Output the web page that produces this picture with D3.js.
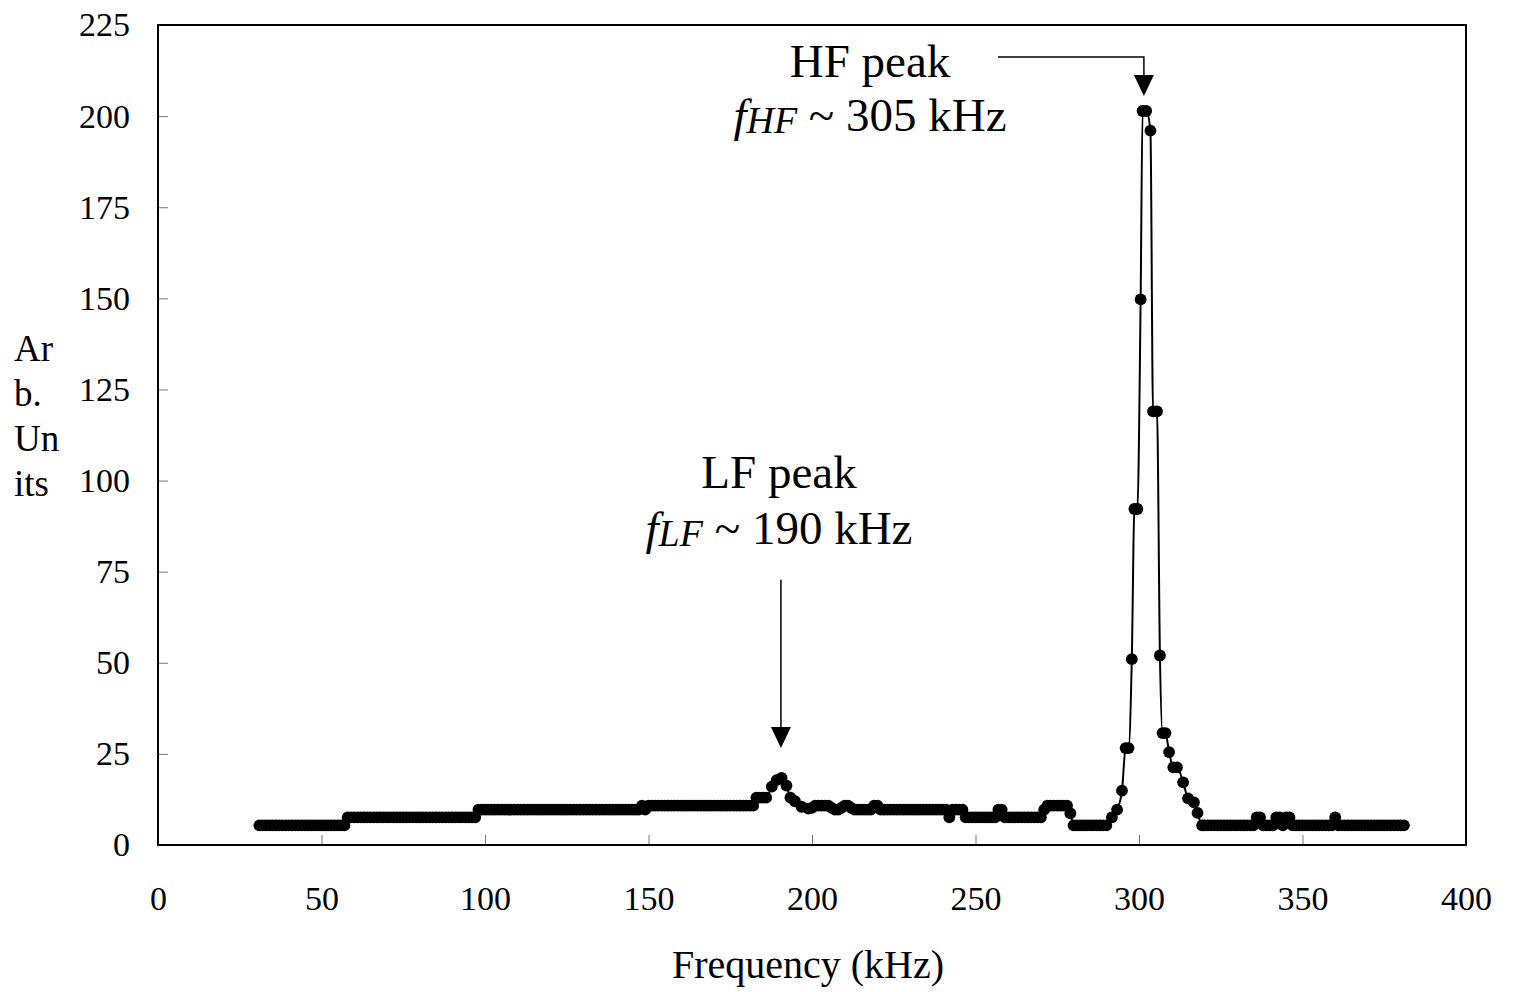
<!DOCTYPE html>
<html>
<head>
<meta charset="utf-8">
<script src="https://cdn.jsdelivr.net/npm/d3@7"></script>
<style>
  body { margin: 0; background: #fff; }
  text { font-family: "Liberation Serif", "Times New Roman", serif; fill: #000; }
</style>
</head>
<body>
<div id="chart"></div>
<script>
// frequency of each sample (kHz)
var freq = [
  31,32,33,34,35,36,37,38,39,40,
  41,42,43,44,45,46,47,48,49,50,
  51,52,53,54,55,56,57,58,59,60,
  61,62,63,64,65,66,67,68,69,70,
  71,72,73,74,75,76,77,78,79,80,
  81,82,83,84,85,86,87,88,89,90,
  91,92,93,94,95,96,97,98,99,100,
  101,102,103,104,105,106,107,108,109,110,
  111,112,113,114,115,116,117,118,119,120,
  121,122,123,124,125,126,127,128,129,130,
  131,132,133,134,135,136,137,138,139,140,
  141,142,143,144,145,146,147,148,149,150,
  151,152,153,154,155,156,157,158,159,160,
  161,162,163,164,165,166,167,168,169,170,
  171,172,173,174,175,176,177,178,179,180,
  181,182,183,184,185,186,
  187.7,189.2,190.7,192.2,193.4,194.8,196.8,198.9,
  200,201,202,203,204,205,206,207,208,209,
  210,211,212,213,214,215,216,217,218,219,
  220,221,222,223,224,225,226,227,228,229,
  230,231,232,233,234,235,236,237,238,239,
  240,241,242,243,244,245,246,247,248,249,
  250,251,252,253,254,255,256,257,258,259,
  260,261,262,263,264,265,266,267,268,269,
  270,271,272,273,274,275,276,277,278,279,
  280,281,282,283,284,285,286,287,288,289,290,
  291.7,293.3,294.8,295.9,296.8,297.8,298.6,299.5,300.5,301.1,
  302.2,303.5,304.3,305.5,306.4,307.2,308.1,309.2,310.5,311.6,
  313.5,315.0,316.8,317.9,319.3,
  320,321,322,323,324,325,326,327,328,329,
  330,331,332,333,334,335,336,337,338,339,
  340,341,342,343,344,345,346,347,348,349,
  350,351,352,353,354,355,356,357,358,359,
  360,361,362,363,364,365,366,367,368,369,
  370,371,372,373,374,375,376,377,378,379,380,381
];

// amplitude of each sample (arb. units)
var amp = [
  5.4,5.4,5.4,5.4,5.4,5.4,5.4,5.4,5.4,5.4,
  5.4,5.4,5.4,5.4,5.4,5.4,5.4,5.4,5.4,5.4,
  5.4,5.4,5.4,5.4,5.4,5.4,5.4,7.6,7.6,7.6,
  7.6,7.6,7.6,7.6,7.6,7.6,7.6,7.6,7.6,7.6,
  7.6,7.6,7.6,7.6,7.6,7.6,7.6,7.6,7.6,7.6,
  7.6,7.6,7.6,7.6,7.6,7.6,7.6,7.6,7.6,7.6,
  7.6,7.6,7.6,7.6,7.6,7.6,7.6,9.7,9.7,9.7,
  9.7,9.7,9.7,9.7,9.7,9.7,9.7,9.7,9.7,9.7,
  9.7,9.7,9.7,9.7,9.7,9.7,9.7,9.7,9.7,9.7,
  9.7,9.7,9.7,9.7,9.7,9.7,9.7,9.7,9.7,9.7,
  9.7,9.7,9.7,9.7,9.7,9.7,9.7,9.7,9.7,9.7,
  9.7,9.7,9.7,9.7,9.7,9.7,9.7,10.8,9.7,10.8,
  10.8,10.8,10.8,10.8,10.8,10.8,10.8,10.8,10.8,10.8,
  10.8,10.8,10.8,10.8,10.8,10.8,10.8,10.8,10.8,10.8,
  10.8,10.8,10.8,10.8,10.8,10.8,10.8,10.8,10.8,10.8,
  10.8,10.8,13.0,13.0,13.0,13.0,
  16.0,17.8,18.4,16.3,13.0,12.0,10.5,10.0,
  10.2,10.8,10.8,10.8,10.8,10.8,10.2,9.7,9.7,10.2,
  10.8,10.8,10.2,9.7,9.7,9.7,9.7,9.7,9.7,10.8,
  10.8,9.7,9.7,9.7,9.7,9.7,9.7,9.7,9.7,9.7,
  9.7,9.7,9.7,9.7,9.7,9.7,9.7,9.7,9.7,9.7,
  9.7,9.7,7.6,9.7,9.7,9.7,9.7,7.6,7.6,7.6,
  7.6,7.6,7.6,7.6,7.6,7.6,7.6,9.7,9.7,7.6,
  7.6,7.6,7.6,7.6,7.6,7.6,7.6,7.6,7.6,7.6,
  7.6,9.7,10.8,10.8,10.8,10.8,10.8,10.8,10.8,8.7,
  5.4,5.4,5.4,5.4,5.4,5.4,5.4,5.4,5.4,5.4,5.4,
  7.6,9.7,14.9,26.6,26.6,51.0,92.2,92.2,149.7,201.4,
  201.4,196.0,119.0,119.0,52.0,30.7,30.7,25.5,21.3,21.3,
  17.2,12.8,11.7,8.8,5.4,
  5.4,5.4,5.4,5.4,5.4,5.4,5.4,5.4,5.4,5.4,
  5.4,5.4,5.4,5.4,5.4,5.4,7.6,7.6,5.4,5.4,
  5.4,5.4,7.6,7.6,5.4,7.6,7.6,5.4,5.4,5.4,
  5.4,5.4,5.4,5.4,5.4,5.4,5.4,5.4,5.4,5.4,
  7.6,5.4,5.4,5.4,5.4,5.4,5.4,5.4,5.4,5.4,
  5.4,5.4,5.4,5.4,5.4,5.4,5.4,5.4,5.4,5.4,5.4,5.4
];

var xTicks = [0, 50, 100, 150, 200, 250, 300, 350, 400];
var yTicks = [0, 25, 50, 75, 100, 125, 150, 175, 200, 225];
var yLabelLines = ["Ar", "b.", "Un", "its"];

var svgWidth = 1515, svgHeight = 992;
var svg = d3.select('#chart').append("svg")
    .attr("width", svgWidth)
    .attr("height", svgHeight);

var x = d3.scaleLinear().domain([0, 400]).range([158, 1466]);
var y = d3.scaleLinear().domain([0, 225]).range([845, 25]);

// axes (ticks inside the frame)
var xAxis = svg.append("g")
    .attr("transform", "translate(0," + y(0) + ")")
    .call(d3.axisBottom(x).tickValues(xTicks).tickSizeInner(-10).tickSizeOuter(0).tickPadding(41));
var yAxis = svg.append("g")
    .attr("transform", "translate(" + x(0) + ",0)")
    .call(d3.axisLeft(y).tickValues(yTicks).tickSizeInner(-10).tickSizeOuter(0).tickPadding(28));

[xAxis, yAxis].forEach(function(a) {
  a.select(".domain").remove();
  a.selectAll("line").attr("stroke", "#777").attr("stroke-width", 1);
  a.selectAll("text").attr("font-size", 34).attr("font-family", "Liberation Serif, serif");
});

// plot frame
svg.append("rect")
    .attr("x", x(0)).attr("y", y(225))
    .attr("width", x(400) - x(0)).attr("height", y(0) - y(225))
    .attr("fill", "none").attr("stroke", "#000").attr("stroke-width", 2);

// data
var points = d3.zip(freq, amp);

var line = d3.line()
    .x(function(d) { return x(d[0]); })
    .y(function(d) { return y(d[1]); })
    .curve(d3.curveMonotoneX);

svg.append("path")
    .datum(points)
    .attr("d", line)
    .attr("fill", "none")
    .attr("stroke", "#000")
    .attr("stroke-width", 2);

svg.append("g").selectAll("circle")
    .data(points)
    .enter()
    .append("circle")
    .attr("cx", function(d) { return x(d[0]); })
    .attr("cy", function(d) { return y(d[1]); })
    .attr("r", 5.9)
    .attr("fill", "#000");

// axis titles
svg.append("text")
    .attr("x", 808).attr("y", 978)
    .attr("text-anchor", "middle")
    .attr("font-size", 40)
    .text("Frequency (kHz)");

svg.append("g").selectAll("text")
    .data(yLabelLines)
    .enter()
    .append("text")
    .attr("x", 14)
    .attr("y", function(d, i) { return 361 + i * 45; })
    .attr("font-size", 37)
    .text(function(d) { return d; });

// annotations
function peakLabel(cx, y1, y2, name, sub, rest) {
  svg.append("text")
      .attr("x", cx).attr("y", y1)
      .attr("text-anchor", "middle")
      .attr("font-size", 47)
      .text(name);
  var t = svg.append("text")
      .attr("x", cx).attr("y", y2)
      .attr("text-anchor", "middle")
      .attr("font-size", 47);
  t.append("tspan").attr("font-style", "italic").text("f");
  t.append("tspan").attr("font-style", "italic").attr("font-size", 38).attr("dy", 2).text(sub);
  t.append("tspan").attr("dy", -2).text(rest);
}

function arrowHead(tx, ty) {
  svg.append("path")
      .attr("d", "M" + (tx - 10) + "," + (ty - 21) + "L" + (tx + 10) + "," + (ty - 21) + "L" + tx + "," + ty + "Z")
      .attr("fill", "#000");
}

// HF peak
var hfX = x(301.5), hfTip = y(205.5);
svg.append("path")
    .attr("d", "M998,57H" + hfX + "V" + (hfTip - 18))
    .attr("fill", "none").attr("stroke", "#000").attr("stroke-width", 1.5);
arrowHead(hfX, hfTip);
peakLabel(870, 77, 131, "HF peak", "HF", " ~ 305 kHz");

// LF peak
var lfX = x(190.5), lfTip = y(26.6);
svg.append("path")
    .attr("d", "M" + lfX + "," + y(72.8) + "V" + (lfTip - 18))
    .attr("fill", "none").attr("stroke", "#000").attr("stroke-width", 1.5);
arrowHead(lfX, lfTip);
peakLabel(779, 488, 544, "LF peak", "LF", " ~ 190 kHz");
</script>
</body>
</html>
